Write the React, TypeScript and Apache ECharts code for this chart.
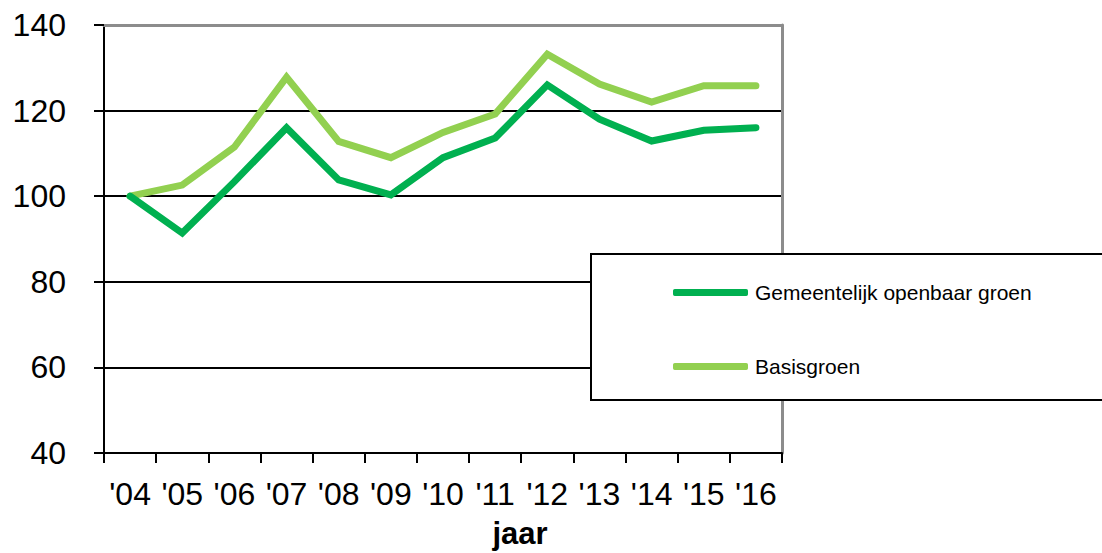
import React, { useEffect, useRef } from "react";
import * as echarts from "echarts";

const years = ["'04", "'05", "'06", "'07", "'08", "'09", "'10", "'11", "'12", "'13", "'14", "'15", "'16"];
const gemeentelijk = [100, 91.4, 103.4, 116.0, 103.8, 100.3, 109.0, 113.6, 126.0, 118.0, 112.9, 115.4, 116.0];
const basisgroen = [100, 102.6, 111.5, 127.8, 112.8, 109.0, 114.9, 119.2, 133.2, 126.2, 122.0, 125.8, 125.8];
const seriesNames = ["Gemeentelijk openbaar groen", "Basisgroen"];
const yTicks = { min: 40, max: 140, interval: 20 };

const FONT = "'Liberation Sans', Arial, sans-serif";

export default function App() {
  const ref = useRef<HTMLDivElement>(null);
  useEffect(() => {
    if (!ref.current) return;
    const chart = echarts.init(ref.current, undefined, { renderer: "svg" });
    const legendCommon = {
      orient: "vertical" as const,
      left: 673,
      icon: "roundRect",
      itemWidth: 75,
      itemHeight: 7,
      itemGap: 0,
      textStyle: { fontFamily: FONT, fontSize: 21, color: "#000", padding: [0, 0, 0, 2] },
      padding: 0,
      z: 20,
      selectedMode: false,
    };
    chart.setOption({
      animation: false,
      backgroundColor: "#fff",
      textStyle: { fontFamily: FONT },
      grid: { left: 104, right: 320, top: 25, bottom: 100, containLabel: false },
      xAxis: [
        {
          type: "category",
          data: years,
          boundaryGap: true,
          axisLine: { show: true, lineStyle: { color: "#000", width: 2 } },
          axisTick: { show: true, length: 10, alignWithLabel: false, lineStyle: { color: "#000", width: 2 } },
          axisLabel: { fontFamily: FONT, fontSize: 32, color: "#000", margin: 25, interval: 0 },
          splitLine: { show: false },
        },
        {
          type: "category",
          data: years,
          position: "top",
          axisLine: { show: true, lineStyle: { color: "#8c8c8c", width: 3 } },
          axisTick: { show: false },
          axisLabel: { show: false },
          splitLine: { show: false },
        },
      ],
      yAxis: [
        {
          type: "value",
          min: yTicks.min,
          max: yTicks.max,
          interval: yTicks.interval,
          axisLine: { show: true, lineStyle: { color: "#000", width: 2 } },
          axisTick: { show: true, length: 10, lineStyle: { color: "#000", width: 2 } },
          axisLabel: { fontFamily: FONT, fontSize: 32, color: "#000", margin: 38 },
          splitLine: { show: true, lineStyle: { color: "#000", width: 2 } },
        },
        {
          type: "value",
          min: yTicks.min,
          max: yTicks.max,
          interval: yTicks.interval,
          position: "right",
          axisLine: { show: true, lineStyle: { color: "#8c8c8c", width: 3 } },
          axisTick: { show: false },
          axisLabel: { show: false },
          splitLine: { show: false },
        },
      ],
      legend: [
        { ...legendCommon, top: 282, data: [seriesNames[0]] },
        { ...legendCommon, top: 356, data: [seriesNames[1]] },
      ],
      graphic: [
        {
          type: "rect",
          shape: { x: 591, y: 254, width: 540, height: 146 },
          style: { fill: "#fff", stroke: "#000", lineWidth: 2 },
          z: 10,
        },
        {
          type: "text",
          x: 520,
          y: 533,
          style: {
            text: "jaar",
            fontFamily: FONT,
            fontSize: 31,
            fontWeight: "bold",
            fill: "#000",
            textAlign: "center",
            textVerticalAlign: "middle",
          },
          z: 10,
        },
      ],
      series: [
        {
          name: seriesNames[0],
          type: "line",
          data: gemeentelijk,
          symbol: "none",
          lineStyle: { color: "#00B050", width: 7, cap: "round", join: "miter" },
          itemStyle: { color: "#00B050" },
          z: 3,
        },
        {
          name: seriesNames[1],
          type: "line",
          data: basisgroen,
          symbol: "none",
          lineStyle: { color: "#92D050", width: 7, cap: "round", join: "miter" },
          itemStyle: { color: "#92D050" },
          z: 2,
        },
      ],
    });
    return () => chart.dispose();
  }, []);
  return <div ref={ref} style={{ width: 1102, height: 553, position: "absolute", left: 0, top: 0 }} />;
}
